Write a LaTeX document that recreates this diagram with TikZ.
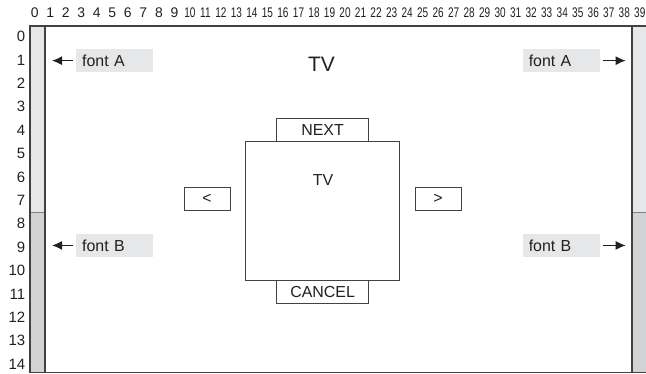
\documentclass[tikz,border=0pt]{standalone}
\usepackage{fontspec}
\setmainfont{Liberation Sans}
\usetikzlibrary{arrows.meta}

\definecolor{panel}{HTML}{E6E7E8}
\definecolor{bardark}{HTML}{D1D3D4}
\definecolor{ink}{HTML}{231F20}

\tikzset{
  box/.style={draw=ink!85, line width=0.8bp, inner sep=0pt, text=ink,
    font=\fontsize{16}{18}\selectfont},
  tag/.style={fill=panel, inner sep=0pt, inner xsep=6bp, text width=65bp,
    minimum height=22.7bp, align=left, text=ink, font=\fontsize{16}{18}\selectfont},
  colnum/.style={inner sep=0pt, text=ink, font=\fontsize{14}{16}\selectfont},
  rownum/.style={inner sep=0pt, anchor=east, text=ink, font=\fontsize{15}{17}\selectfont},
  pointer/.style={->, >={Latex[length=10bp,width=9bp]}, line width=1.3bp, ink, shorten <=3bp}
}

\begin{document}
\begin{tikzpicture}[x=15.4bp,y=-23.1bp]
\useasboundingbox (-1.948,-1.1255) rectangle (40,15.065);

% side bars
\fill[panel] (0,0) rectangle (0.974,8.08);
\fill[bardark] (0,8.08) rectangle (0.974,15);
\fill[panel] (39.09,0) rectangle (40.2,8.08);
\fill[bardark] (39.09,8.08) rectangle (40.2,15);
\draw[gray, line width=1.2bp] (0,8.08) -- (0.974,8.08);
\draw[gray, line width=1.2bp] (39.09,8.08) -- (40.2,8.08);
\draw[ink!85, line width=1.2bp] (0.974,0) -- (0.974,15);
\draw[ink!85, line width=1.2bp] (39.09,0) -- (39.09,15);

% frame
\draw[ink!85, line width=1.3bp] (40.2,0) -- (0,0) -- (0,15) -- (40.2,15);

% rulers
\foreach \i in {0,...,9}
  \node[colnum] (c\i) at ({0.31+1.0074*\i},-0.58) {\i};
\foreach \i in {10,...,39}
  \node[colnum] (c\i) at ({0.31+1.0074*\i},-0.58) {\scalebox{0.72}[1]{\i}};
\foreach \j in {0,...,14}
  \node[rownum] (r\j) at (-0.3,{0.4545+1.013*\j}) {\j};

% title
\node[inner sep=0pt, text=ink, font=\fontsize{21}{24}\selectfont] (title) at (18.93,1.675) {TV};

% font labels
\node[tag] (fontAl) at (5.5,1.5) {font A};
\node[tag] (fontAr) at (34.5,1.5) {font A};
\node[tag] (fontBl) at (5.5,9.5) {font B};
\node[tag] (fontBr) at (34.5,9.5) {font B};

\coordinate (tipAl) at (1.43,1.5);
\coordinate (tipAr) at (38.68,1.5);
\coordinate (tipBl) at (1.43,9.5);
\coordinate (tipBr) at (38.68,9.5);

\draw[pointer] (fontAl.west) -- (tipAl);
\draw[pointer] (fontAr.east) -- (tipAr);
\draw[pointer] (fontBl.west) -- (tipBl);
\draw[pointer] (fontBr.east) -- (tipBr);

% screen
\node[box, minimum width=154bp, minimum height=138.6bp] (screen) at (19,8) {};
\node[inner sep=0pt, text=ink, font=\fontsize{16}{18}\selectfont] (tvin) at (19.03,6.67) {TV};
\node[box, fill=white, minimum width=92.4bp, minimum height=23.1bp] (next) at (19,4.5) {NEXT};
\node[box, fill=white, minimum width=92.4bp, minimum height=23.1bp] (cancel) at (19,11.5) {CANCEL};
\node[box, minimum width=46.2bp, minimum height=23.1bp] (prev) at (11.5,7.5) {<};
\node[box, minimum width=46.2bp, minimum height=23.1bp] (fwd) at (26.5,7.5) {>};

\end{tikzpicture}
\end{document}
